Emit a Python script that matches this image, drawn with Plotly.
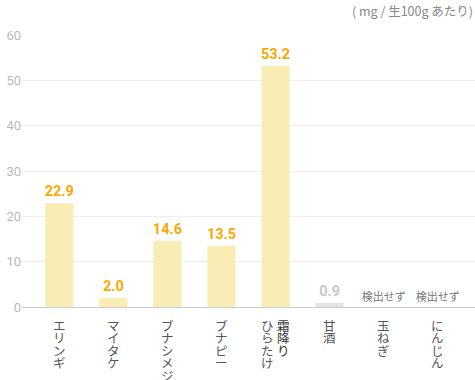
import plotly.graph_objects as go

categories = ["エリンギ", "マイタケ", "ブナシメジ", "ブナピー", "霜降りひらたけ", "甘酒", "玉ねぎ", "にんじん"]
values = [22.9, 2.0, 14.6, 13.5, 53.2, 0.9, 0, 0]
value_labels = ["22.9", "2.0", "14.6", "13.5", "53.2", "0.9", "検出せず", "検出せず"]
# vertical label columns (right-to-left order)
label_columns = [["エリンギ"], ["マイタケ"], ["ブナシメジ"], ["ブナピー"], ["霜降り", "ひらたけ"], ["甘酒"], ["玉ねぎ"], ["にんじん"]]
y_ticks = [0, 10, 20, 30, 40, 50, 60]
unit_text = "( mg / 生100g あたり)"

ORANGE = "#fba900"
BAR = "#f9edb6"
GRAY_BAR = "#e4e4e4"
JP = "Noto Sans CJK JP"

bar_colors = [BAR] * 5 + [GRAY_BAR, BAR, BAR]
text_colors = [ORANGE] * 5 + ["#c8c8c8", "#777777", "#777777"]
text_sizes = [14.5] * 6 + [11, 11]
texts = [("<b>%s</b>" % t if i < 6 else t) for i, t in enumerate(value_labels)]
text_fams = ["Roboto"] * 6 + [JP, JP]

fig = go.Figure(go.Bar(
    x=categories, y=values, marker=dict(color=bar_colors, line=dict(width=0)),
    width=0.52, text=texts, textposition="outside", constraintext="none",
    textfont=dict(color=text_colors, size=text_sizes, family=text_fams),
    cliponaxis=False, hoverinfo="skip",
))

annotations = []
for cat, cols in zip(categories, label_columns):
    n = len(cols)
    for ci, col in enumerate(cols):
        xshift = (n - 1) * 8 - ci * 16
        color = "#333333" if (n > 1 and ci == 0) else "#555555"
        body = "<br>".join('<span style="font-size:12.5px">%s</span>' % ch for ch in col)
        annotations.append(dict(
            x=cat, y=0, xref="x", yref="y", text=body, showarrow=False,
            xanchor="center", yanchor="top", xshift=xshift, yshift=-8,
            align="center", borderpad=0,
            font=dict(family=JP, size=9.6, color=color),
        ))

annotations.append(dict(
    x=1, y=1, xref="paper", yref="paper", xanchor="right", yanchor="middle",
    xshift=0, yshift=25, text=unit_text, showarrow=False,
    font=dict(family=JP, size=12.5, color="#888888"),
))

fig.update_layout(
    width=475, height=380, margin=dict(l=22, r=0, t=35, b=73),
    paper_bgcolor="white", plot_bgcolor="white", showlegend=False,
    annotations=annotations,
    xaxis=dict(range=[-0.69, 7.69], showticklabels=False, showgrid=False,
               zeroline=False, showline=False, ticks="", fixedrange=True),
    yaxis=dict(range=[0, 60], tickvals=y_ticks, showgrid=True, gridcolor="#eeeeee",
               gridwidth=1, zeroline=True, zerolinecolor="#cccccc", zerolinewidth=1,
               tickfont=dict(family="Roboto", size=13, color="#bbbbbb"),
               ticks="", showline=False, fixedrange=True),
)

fig.write_html("out.html", config={"displayModeBar": False},
               post_script="document.body.style.margin='0';document.body.style.overflow='hidden';")
